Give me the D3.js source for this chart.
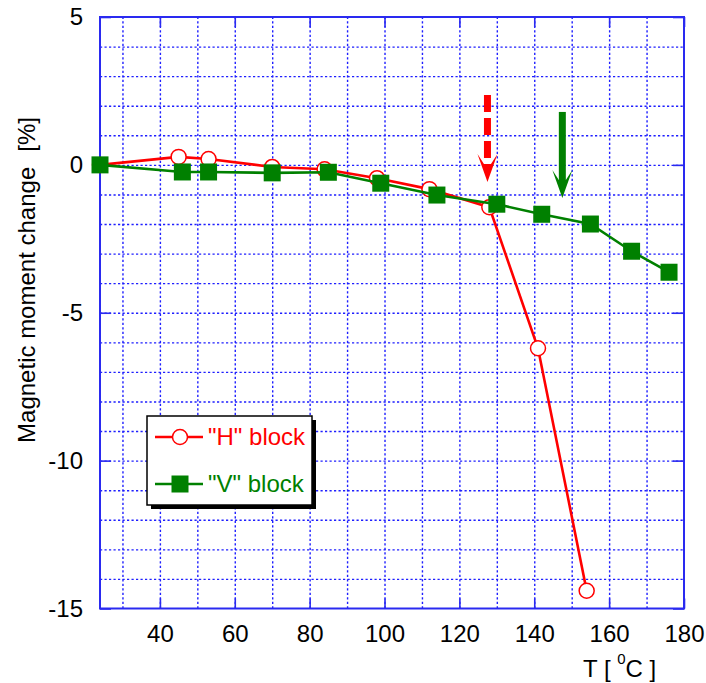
<!DOCTYPE html>
<html>
<head>
<meta charset="utf-8">
<script src="https://cdn.jsdelivr.net/npm/d3@7"></script>
<style>
  html, body { margin: 0; padding: 0; background: #fff; }
  svg { display: block; font-family: "Liberation Sans", Arial, sans-serif; }
</style>
</head>
<body>
<div id="chart"></div>
<script>
// "H" block: open red circles
var tempH = [24, 45, 53, 70, 84, 98, 112, 128, 141, 154];
var changeH = [0, 0.27, 0.2, -0.07, -0.15, -0.45, -0.82, -1.43, -6.2, -14.4];

// "V" block: filled green squares
var tempV = [24, 46, 53, 70, 85, 99, 114, 130, 142, 155, 166, 176];
var changeV = [0, -0.24, -0.24, -0.27, -0.25, -0.62, -1.02, -1.33, -1.67, -2.0, -2.92, -3.63];

var seriesNames = ['"H" block', '"V" block'];

var xTicks = [40, 60, 80, 100, 120, 140, 160, 180];
var yTicks = [5, 0, -5, -10, -15];
var xGrid = [30, 40, 50, 60, 70, 80, 90, 100, 110, 120, 130, 140, 150, 160, 170];
var yGrid = [4, 3, 2, 1, 0, -1, -2, -3, -4, -5, -6, -7, -8, -9, -10, -11, -12, -13, -14];

// transition markers (arrows)
var arrowT = [127.5, 147.5];
var arrowTop = [2.36, 1.79];
var arrowTip = [-0.58, -1.12];

var W = 706, H = 683;
var plotLeft = 100, plotRight = 684, plotTop = 17, plotBottom = 608.5;
var red = '#ff0000', green = '#008000', blue = '#1f1fff';
var fontSize = '24px';

var svg = d3.select('#chart').append('svg')
    .attr('width', W)
    .attr('height', H);

var x = d3.scaleLinear().domain([24, 180]).range([plotLeft, plotRight]);
var y = d3.scaleLinear().domain([-15, 5]).range([plotBottom, plotTop]);

// Grid
svg.append('g')
    .attr('transform', 'translate(0,' + plotBottom + ')')
    .call(d3.axisBottom(x).tickValues(xGrid).tickSize(-(plotBottom - plotTop)).tickFormat(''))
    .call(function(g) { g.select('.domain').remove(); })
    .selectAll('line')
    .attr('stroke', blue).attr('stroke-width', 1.4).attr('stroke-dasharray', '2.2,2.3');

svg.append('g')
    .attr('transform', 'translate(' + plotLeft + ',0)')
    .call(d3.axisLeft(y).tickValues(yGrid).tickSize(-(plotRight - plotLeft)).tickFormat(''))
    .call(function(g) { g.select('.domain').remove(); })
    .selectAll('line')
    .attr('stroke', blue).attr('stroke-width', 1.4).attr('stroke-dasharray', '2.2,2.3');

// Inward ticks + labels
function styleAxis(g) {
    g.select('.domain').remove();
    g.selectAll('line').attr('stroke', '#2a2af0').attr('stroke-width', 1.6);
    g.selectAll('text').attr('fill', '#000').style('font-size', fontSize);
}

svg.append('g')
    .attr('transform', 'translate(0,' + plotBottom + ')')
    .call(d3.axisBottom(x).tickValues(xTicks).tickSizeInner(-10).tickSizeOuter(0).tickPadding(16))
    .call(styleAxis);

svg.append('g')
    .attr('transform', 'translate(0,' + plotTop + ')')
    .call(d3.axisTop(x).tickValues(xTicks).tickSizeInner(-10).tickSizeOuter(0).tickFormat(''))
    .call(styleAxis);

svg.append('g')
    .attr('transform', 'translate(' + plotLeft + ',0)')
    .call(d3.axisLeft(y).tickValues(yTicks).tickSizeInner(-11).tickSizeOuter(0).tickPadding(17)
        .tickFormat(function(d) { return String(d); }))
    .call(styleAxis);

svg.append('g')
    .attr('transform', 'translate(' + plotRight + ',0)')
    .call(d3.axisRight(y).tickValues(yTicks).tickSizeInner(-11).tickSizeOuter(0).tickFormat(''))
    .call(styleAxis);

// Plot frame
svg.append('rect')
    .attr('x', plotLeft).attr('y', plotTop)
    .attr('width', plotRight - plotLeft).attr('height', plotBottom - plotTop)
    .attr('fill', 'none')
    .attr('stroke', '#2a2af0')
    .attr('stroke-width', 2);

// Axis titles
var xTitle = svg.append('text')
    .attr('x', 583).attr('y', 677)
    .style('font-size', fontSize)
    .attr('fill', '#000');
xTitle.append('tspan').text('T [ ');
xTitle.append('tspan').attr('dy', -13).style('font-size', '15px').text('0');
xTitle.append('tspan').attr('dy', 13).text('C ]');

var yTitle = svg.append('text')
    .attr('transform', 'translate(35,280) rotate(-90)')
    .attr('text-anchor', 'middle')
    .style('font-size', fontSize)
    .attr('fill', '#000');
yTitle.append('tspan').text('Magnetic moment change');
yTitle.append('tspan').attr('dx', 15).text('[%]');

// Data
var dataH = tempH.map(function(t, i) { return { t: t, v: changeH[i] }; });
var dataV = tempV.map(function(t, i) { return { t: t, v: changeV[i] }; });

var line = d3.line()
    .x(function(d) { return x(d.t); })
    .y(function(d) { return y(d.v); });

svg.append('path')
    .datum(dataH)
    .attr('fill', 'none')
    .attr('stroke', red)
    .attr('stroke-width', 2.6)
    .attr('d', line);

svg.selectAll('.dot-h')
    .data(dataH)
    .enter()
    .append('circle')
    .attr('class', 'dot-h')
    .attr('cx', function(d) { return x(d.t); })
    .attr('cy', function(d) { return y(d.v); })
    .attr('r', 7.5)
    .attr('fill', '#fff')
    .attr('stroke', red)
    .attr('stroke-width', 1.5);

svg.append('path')
    .datum(dataV)
    .attr('fill', 'none')
    .attr('stroke', green)
    .attr('stroke-width', 2.6)
    .attr('d', line);

var sq = 17;
svg.selectAll('.dot-v')
    .data(dataV)
    .enter()
    .append('rect')
    .attr('class', 'dot-v')
    .attr('x', function(d) { return x(d.t) - sq / 2; })
    .attr('y', function(d) { return y(d.v) - sq / 2; })
    .attr('width', sq)
    .attr('height', sq)
    .attr('fill', green);

// Arrows
var arrowColors = [red, green];
arrowT.forEach(function(t, i) {
    var ax = x(t), y0 = y(arrowTop[i]), y1 = y(arrowTip[i]);
    svg.append('line')
        .attr('x1', ax).attr('x2', ax)
        .attr('y1', y0).attr('y2', y1 - 17)
        .attr('stroke', arrowColors[i])
        .attr('stroke-width', 7)
        .attr('stroke-dasharray', i === 0 ? '17,6' : null);
    svg.append('path')
        .attr('d', 'M' + ax + ',' + y1 +
            'L' + (ax - 10) + ',' + (y1 - 28) +
            'L' + (ax - 3.5) + ',' + (y1 - 18) +
            'L' + (ax + 3.5) + ',' + (y1 - 18) +
            'L' + (ax + 10) + ',' + (y1 - 28) + 'Z')
        .attr('fill', arrowColors[i]);
});

// Legend
var lg = svg.append('g');
lg.append('rect')
    .attr('x', 151).attr('y', 420)
    .attr('width', 165).attr('height', 89)
    .attr('fill', '#000');
lg.append('rect')
    .attr('x', 147).attr('y', 416)
    .attr('width', 165).attr('height', 89)
    .attr('fill', '#fff')
    .attr('stroke', '#000')
    .attr('stroke-width', 1.5);

seriesNames.forEach(function(name, i) {
    var ly = 437 + i * 47;
    var col = i === 0 ? red : green;
    lg.append('line')
        .attr('x1', 155).attr('x2', 203)
        .attr('y1', ly).attr('y2', ly)
        .attr('stroke', col)
        .attr('stroke-width', 2.6);
    if (i === 0) {
        lg.append('circle')
            .attr('cx', 180).attr('cy', ly).attr('r', 7.5)
            .attr('fill', '#fff').attr('stroke', col).attr('stroke-width', 1.5);
    } else {
        lg.append('rect')
            .attr('x', 180 - sq / 2).attr('y', ly - sq / 2)
            .attr('width', sq).attr('height', sq)
            .attr('fill', col);
    }
    lg.append('text')
        .attr('x', 208).attr('y', ly + 8)
        .attr('fill', col)
        .style('font-size', fontSize)
        .text(name);
});
</script>
</body>
</html>
